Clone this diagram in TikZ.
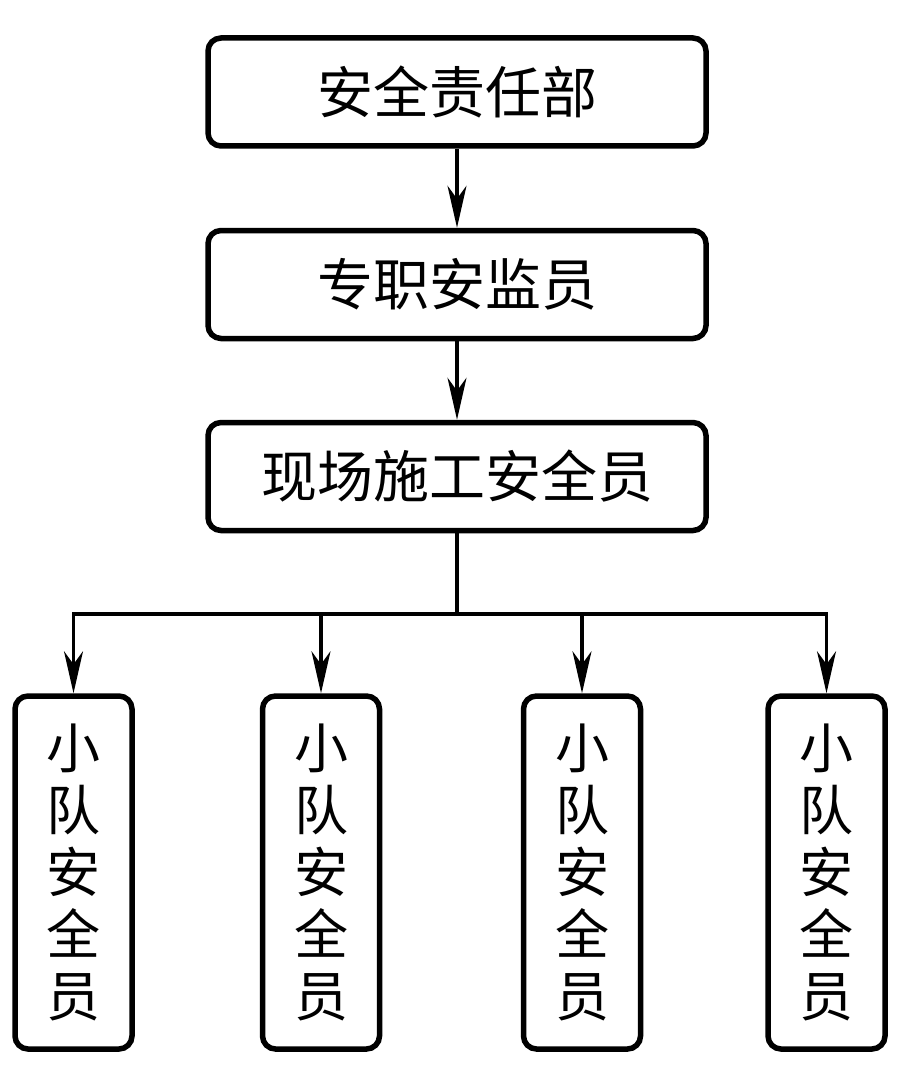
\documentclass[tikz,border=0pt]{standalone}
\usepackage{fontspec}
\newfontfamily\cjk{Noto Sans CJK SC}
\usetikzlibrary{arrows.meta}
\begin{document}
\begin{tikzpicture}[x=1pt,y=-1pt,
  wide/.style={draw, line width=5.5pt, rounded corners=13pt, minimum width=498pt, minimum height=108pt, inner sep=0pt, font=\cjk\fontsize{56}{62}\selectfont},
  tall/.style={draw, line width=5.5pt, rounded corners=13pt, minimum width=117pt, minimum height=353pt, inner sep=0pt, align=center, font=\cjk\fontsize{54}{62}\selectfont},
  conn/.style={line width=3.3pt},
  arr/.style={conn, -{Stealth[length=42pt, width=19pt, inset=13pt]}}]
\useasboundingbox (0,0) rectangle (906,1086);
\node[wide] (a) at (457,92) {安全责任部};
\node[wide] (b) at (457,284.5) {专职安监员};
\node[wide] (c) at (457,476.5) {现场施工安全员};
\node[tall] (d1) at (73.5,872.5) {小\\队\\安\\全\\员};
\node[tall] (d2) at (321,872.5) {小\\队\\安\\全\\员};
\node[tall] (d3) at (582,872.5) {小\\队\\安\\全\\员};
\node[tall] (d4) at (826.5,872.5) {小\\队\\安\\全\\员};
\coordinate (s) at (457,614);
\draw[arr] (a) -- (b);
\draw[arr] (b) -- (c);
\draw[conn] (c) -- (s);
\draw[conn, line cap=rect] (d1.north |- s) -- (d4.north |- s);
\foreach \i in {1,...,4} \draw[arr] (d\i.north |- s) -- (d\i.north);
\end{tikzpicture}
\end{document}
